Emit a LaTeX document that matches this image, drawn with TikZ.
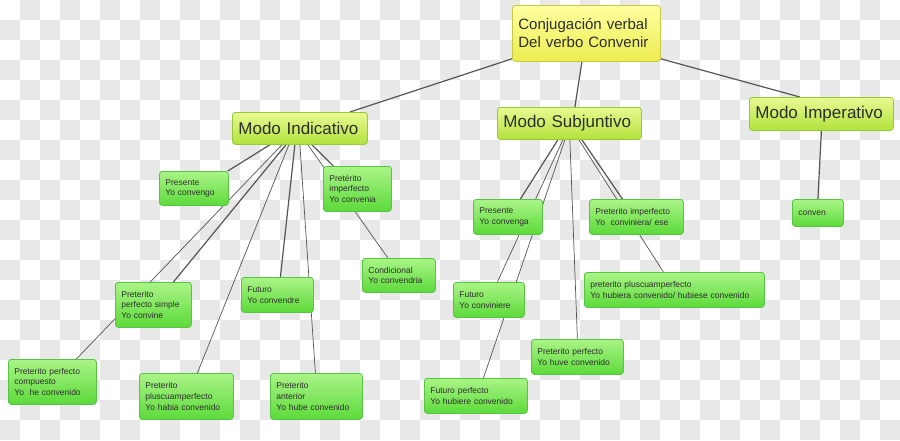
\documentclass[tikz,border=0pt]{standalone}
\usepackage{fontspec}
\setmainfont{Liberation Sans}
\usetikzlibrary{calc}
\definecolor{cuadro}{RGB}{232,232,232}
\definecolor{gris}{RGB}{85,85,85}
\definecolor{texto}{RGB}{45,45,45}
\definecolor{hojaarriba}{RGB}{170,244,135}
\definecolor{hojaabajo}{RGB}{92,218,58}
\definecolor{hojaborde}{RGB}{88,196,70}
\definecolor{modoarriba}{RGB}{232,250,145}
\definecolor{modoabajo}{RGB}{178,226,60}
\definecolor{modoborde}{RGB}{150,200,60}
\definecolor{raizarriba}{RGB}{255,255,160}
\definecolor{raizabajo}{RGB}{236,236,80}
\definecolor{raizborde}{RGB}{200,200,70}
\pgfdeclarelayer{fondo}
\pgfdeclarelayer{lineas}
\pgfsetlayers{fondo,lineas,main}
\begin{document}
\begin{tikzpicture}[x=1pt, y=-1pt,
    hoja/.style = {draw=hojaborde, line width=0.8pt, rounded corners=3pt, top color=hojaarriba, bottom color=hojaabajo, text=texto, anchor=north west, align=left, inner xsep=6pt, inner ysep=0pt, font=\fontsize{8.5}{10.6}\selectfont},
    modo/.style = {draw=modoborde, line width=0.8pt, rounded corners=3pt, top color=modoarriba, bottom color=modoabajo, text=texto, anchor=north west, align=left, inner xsep=6pt, inner ysep=0pt, font=\fontsize{17}{20}\selectfont},
    raiz/.style = {draw=raizborde, line width=0.8pt, rounded corners=3pt, top color=raizarriba, bottom color=raizabajo, text=texto, anchor=north west, align=left, inner xsep=6pt, inner ysep=0pt, font=\fontsize{15}{18}\selectfont},
    linea/.style = {draw=gris, line width=1.2pt},
    fina/.style = {draw=gris, line width=0.7pt}]
    \useasboundingbox (0,0) rectangle (900,440);
    % fondo a cuadros
    \begin{pgfonlayer}{fondo}
        \fill[white] (0,0) rectangle (900,440);
        \foreach \x in {20,60,...,900}
            \foreach \y in {0,40,...,420}
                \fill[cuadro] (\x,\y) rectangle ++(20,20);
        \foreach \x in {0,40,...,880}
            \foreach \y in {20,60,...,420}
                \fill[cuadro] (\x,\y) rectangle ++(20,20);
    \end{pgfonlayer}
    \node[raiz, text width=136pt, minimum height=56pt] (raiz) at (512,5) {Conjugación verbal\\Del verbo Convenir};
    \node[modo, text width=123pt, minimum height=32pt] (ind) at (232,112) {Modo Indicativo};
    \node[modo, text width=132pt, minimum height=32pt] (sub) at (497,107) {Modo Subjuntivo};
    \node[modo, text width=132pt, minimum height=33pt] (imp) at (749,97) {Modo Imperativo};
    % indicativo
    \node[hoja, text width=57pt, minimum height=34pt] (presind) at (159,171) {Presente\\Yo convengo};
    \node[hoja, text width=56pt, minimum height=45pt] (impind) at (323,166) {Pretérito\\imperfecto\\Yo convenia};
    \node[hoja, text width=61pt, minimum height=34pt] (cond) at (362,258) {Condicional\\Yo convendria};
    \node[hoja, text width=64pt, minimum height=45pt] (perfsimp) at (115,282) {Preterito\\perfecto simple\\Yo convine};
    \node[hoja, text width=60pt, minimum height=35pt] (futind) at (241,277) {Futuro\\Yo convendre};
    \node[hoja, text width=76pt, minimum height=45pt] (comp) at (8,359) {Preterito perfecto\\compuesto\\Yo\ \ he convenido};
    \node[hoja, text width=82pt, minimum height=46pt] (plusind) at (139,373) {Preterito\\pluscuamperfecto\\Yo habia convenido};
    \node[hoja, text width=80pt, minimum height=46pt] (ant) at (270,373) {Preterito\\anterior\\Yo hube convenido};
    % subjuntivo
    \node[hoja, text width=57pt, minimum height=35pt] (pressub) at (473,199) {Presente\\Yo convenga};
    \node[hoja, text width=82pt, minimum height=35pt] (impsub) at (589,199) {Preterito imperfecto\\Yo\ \ conviniera/ ese};
    \node[hoja, text width=168pt, minimum height=35pt] (plussub) at (584,272) {preterito pluscuamperfecto\\Yo hubiera convenido/ hubiese convenido};
    \node[hoja, text width=59pt, minimum height=35pt] (futsub) at (453,282) {Futuro\\Yo conviniere};
    \node[hoja, text width=80pt, minimum height=35pt] (perfsub) at (531,339) {Preterito perfecto\\Yo huve convenido};
    \node[hoja, text width=91pt, minimum height=35pt] (futperf) at (424,378) {Futuro perfecto\\Yo hubiere convenido};
    % imperativo
    \node[hoja, text width=39pt, minimum height=27pt] (conven) at (792,199) {conven};
    \begin{pgfonlayer}{lineas}
        \draw[linea] ($(raiz.south west)+(0,-3)$) -- ($(ind.north)+(50,0)$);
        \draw[linea] ($(raiz.south)+(-4.5,0)$) -- ($(sub.north)+(5.5,0)$);
        \draw[linea] ($(raiz.south east)+(0,-3)$) -- ($(imp.north)+(-21.5,0)$);
        \draw[linea] ($(ind.south)+(-30,0)$) -- ($(presind.north east)+(-1,0)$);
        \draw[fina] ($(ind.south)+(-18,0)$) -- ($(comp.north)+(24,0)$);
        \draw[linea] ($(ind.south)+(-14,0)$) -- ($(perfsimp.north)+(20,0)$);
        \draw[fina] ($(ind.south)+(-11,0)$) -- ($(plusind.north)+(11,0)$);
        \draw[linea] ($(ind.south)+(-5,0)$) -- ($(futind.north)+(3,0)$);
        \draw[fina] ($(ind.south)+(0,0)$) -- ($(ant.north)+(-1,0)$);
        \draw[fina] ($(ind.south)+(8,0)$) -- ($(cond.north)+(-11,0)$);
        \draw[linea] ($(ind.south)+(12,0)$) -- ($(impind.north)+(-24,0)$);
        \draw[linea] ($(sub.south)+(-11.5,0)$) -- ($(pressub.north)+(12.5,0)$);
        \draw[fina] ($(sub.south)+(-6.5,0)$) -- ($(futsub.north)+(8.5,0)$);
        \draw[fina] ($(sub.south)+(-4.5,0)$) -- ($(futperf.north)+(7.5,0)$);
        \draw[fina] ($(sub.south)+(0.5,0)$) -- ($(perfsub.north)+(0,0)$);
        \draw[fina] ($(sub.south)+(9.5,0)$) -- ($(plussub.north)+(-11,0)$);
        \draw[linea] ($(sub.south)+(12.5,0)$) -- ($(impsub.north)+(-14,0)$);
        \draw[linea] (imp.south) -- (conven.north);
    \end{pgfonlayer}
\end{tikzpicture}
\end{document}
